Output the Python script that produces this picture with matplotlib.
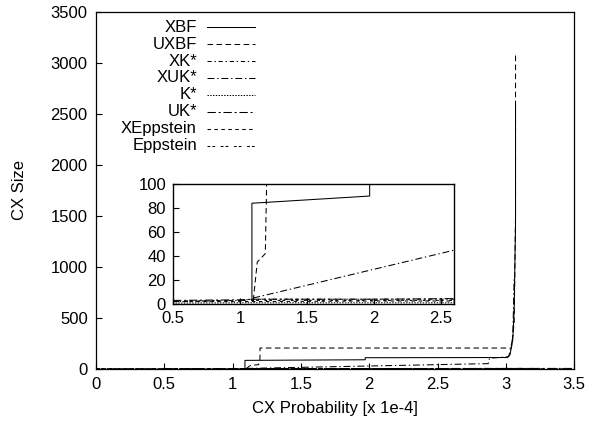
import matplotlib
matplotlib.use('Agg')
import matplotlib.pyplot as plt

plt.rcParams['font.family'] = ['Liberation Sans', 'DejaVu Sans']
plt.rcParams['lines.scale_dashes'] = False

# CX probability [x 1e-4] vs CX size, one pair of lists per algorithm
names = ['XBF', 'UXBF', 'XK*', 'XUK*', 'K*', 'UK*', 'XEppstein', 'Eppstein']

xbf_x = [1.09, 1.09, 1.97, 1.97, 3.01, 3.03, 3.05, 3.06, 3.07, 3.07]
xbf_y = [3, 84, 90, 110, 112, 140, 290, 580, 1400, 2590]

uxbf_x = [1.10, 1.13, 1.19, 1.20, 1.20, 3.04, 3.06, 3.07, 3.07]
uxbf_y = [3, 35, 42, 100, 205, 205, 450, 1500, 3108]

xk_x = [0.0, 0.5, 1.0, 1.1, 2.6, 3.05, 3.2]
xk_y = [1, 2, 3, 4, 4, 5, 5]

xuk_x = [1.10, 2.87, 2.88, 3.02, 3.05, 3.06]
xuk_y = [5, 52, 105, 120, 300, 900]

k_x = [0.0, 1.0, 2.0, 3.0, 3.2]
k_y = [0.5, 1, 1, 1, 1]

uk_x = [0.5, 1.0, 1.1, 2.0, 2.6, 3.1, 3.5]
uk_y = [3, 3.5, 4, 4, 4.5, 5, 5]

xepp_x = [0.0, 0.5, 1.0, 2.0, 3.0, 3.5]
xepp_y = [1.5, 2, 2, 2.5, 2.5, 2.5]

epp_x = [0.0, 0.5, 1.0, 1.5, 2.5, 3.2]
epp_y = [2, 2.5, 3, 3, 3, 3]

series = [(xbf_x, xbf_y), (uxbf_x, uxbf_y), (xk_x, xk_y), (xuk_x, xuk_y),
          (k_x, k_y), (uk_x, uk_y), (xepp_x, xepp_y), (epp_x, epp_y)]
styles = ['-', (0, (4, 2.5)), (0, (3, 2, 1, 2)), (0, (5, 2, 1, 2)),
          (0, (1, 1)), (0, (6, 2, 1.5, 2)), (0, (2.5, 2.5)), (0, (2, 1.5, 2, 4))]

FS = 12

fig = plt.figure(figsize=(5.89, 4.30), dpi=100)
ax = fig.add_axes([0.163, 0.142, 0.812, 0.830])

for (xs, ys), ls in zip(series, styles):
    ax.plot(xs, ys, color='black', linestyle=ls, linewidth=0.75)

ax.set_xlim(0, 3.5)
ax.set_ylim(0, 3500)
ax.set_xticks([0, 0.5, 1, 1.5, 2, 2.5, 3, 3.5])
ax.set_xticklabels(['0', '0.5', '1', '1.5', '2', '2.5', '3', '3.5'])
ax.set_yticks(range(0, 3501, 500))
ax.tick_params(direction='in', length=4, width=0.8, labelsize=FS, pad=6)
for sp in ax.spines.values():
    sp.set_linewidth(0.9)
ax.set_xlabel('CX Probability [x 1e-4]', fontsize=FS, labelpad=6)
ax.set_ylabel('CX Size', fontsize=FS, labelpad=17)

# gnuplot-like key: right aligned names, line samples to their right
y0 = 0.958
step = 0.0476
for i, (name, ls) in enumerate(zip(names, styles)):
    yy = y0 - i * step
    ax.text(0.211, yy, name, transform=ax.transAxes, ha='right', va='center',
            fontsize=FS)
    ax.plot([0.232, 0.333], [yy, yy], transform=ax.transAxes, color='black',
            linestyle=ls, linewidth=0.75)

# zoomed inset
ins = fig.add_axes([0.2937, 0.293, 0.477, 0.279])
for (xs, ys), ls in zip(series, styles):
    ins.plot(xs, ys, color='black', linestyle=ls, linewidth=0.75)
ins.set_xlim(0.5, 2.6)
ins.set_ylim(0, 100)
ins.set_xticks([0.5, 1, 1.5, 2, 2.5])
ins.set_xticklabels(['0.5', '1', '1.5', '2', '2.5'])
ins.set_yticks(range(0, 101, 20))
ins.tick_params(direction='in', length=4, width=0.8, labelsize=FS, pad=5)
for sp in ins.spines.values():
    sp.set_linewidth(1.0)

fig.savefig('out.png', dpi=100)
